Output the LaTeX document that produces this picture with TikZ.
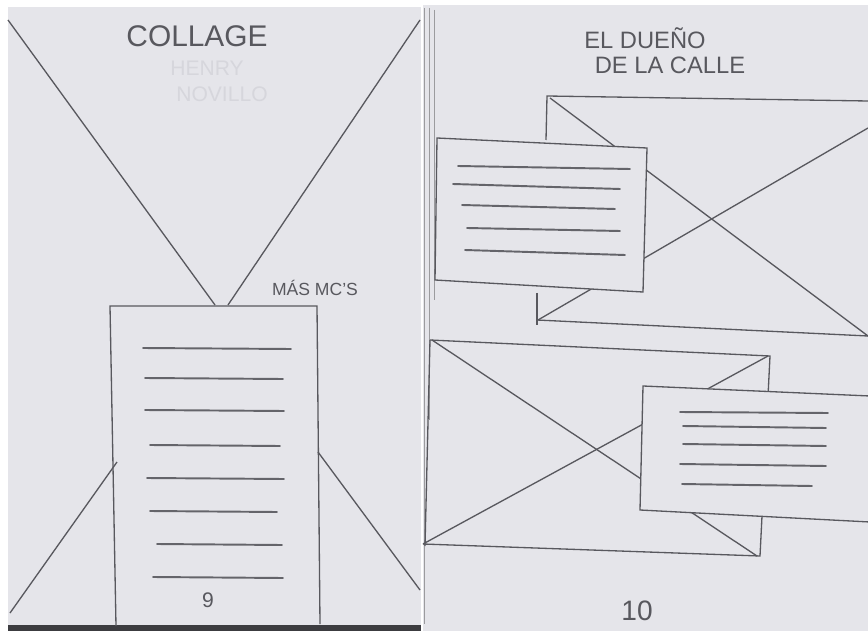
\documentclass[tikz,border=0pt]{standalone}
\usepackage{fontspec}
\setmainfont{Liberation Sans}
\usepackage{tikz}
\usetikzlibrary{calc}
\usepackage{xcolor}
\definecolor{skPaper}{RGB}{229,229,234}
\definecolor{skPencil}{RGB}{88,88,94}
\definecolor{skLine}{RGB}{100,100,106}
\definecolor{skGhost}{RGB}{214,214,220}
\definecolor{skEdge}{RGB}{60,60,64}
\tikzset{
    sheet/.style={fill=skPaper,draw=none},
    pencil/.style={draw=skPencil,line width=0.75pt},
    faint/.style={draw=skPencil!60,line width=0.4pt},
    textrule/.style={draw=skLine,line width=1.1pt,line cap=round},
    card/.style={pencil,fill=skPaper},
    hand/.style={text=skPencil,inner sep=0pt,font=\fontsize{#1}{#1}\selectfont},
    hand/.default=15
}

\begin{document}
\begin{tikzpicture}[x=0.02cm,y=-0.02cm]
\useasboundingbox (0,0) rectangle (868,631);
\clip (0,0) rectangle (868,631);

% sheets
\fill[white] (0,0) rectangle (868,631);
\fill[sheet] (8,7) rectangle (421,626);
\fill[sheet] (423,5) rectangle (868,631);
\fill[skEdge] (8,625) rectangle (421,631);
\draw[faint] (424,8) -- (424,624);
\draw[faint] (429,8) -- (429,420);
\draw[faint] (434,10) -- (434,300);

%%% page 9
\node[hand=12,text=skGhost] (henry) at (207,68) {HENRY};
\node[hand=12,text=skGhost] (novillo) at (222,94) {NOVILLO};
\node[hand=17] (collage) at (197,36) {COLLAGE};

\draw[pencil] (8,20) -- (215,305);
\draw[pencil] (420,20) -- (228,305);
\draw[pencil] (10,613) -- (117,462);
\draw[pencil] (318,452) -- (420,590);

\draw[pencil] (116,626) -- (110,306) -- (317,306) -- (320,624);
\node[hand=10,anchor=south] (mas) at (315,296) {MÁS MC'S};

\foreach \ya/\xa/\xb in {348/143/291,378/145/283,410/145/284,445/150/280,
                         478/147/284,511/150/277,544/157/282,577/153/283}
  \draw[textrule] (\xa,\ya) -- (\xb,\ya+1);

\node[hand=12] (nine) at (208,600) {9};

%%% page 10
\node[hand=13.5] (title1) at (645,38) {EL DUEÑO};
\node[hand=13.5] (title2) at (670,65) {DE LA CALLE};

% upper image box
\draw[pencil] (546,140) -- (547,96) -- (868,101);
\draw[pencil] (537,293) -- (537,325);
\draw[pencil] (537,320) -- (868,336);
\draw[pencil] (550,98) -- (868,336);
\draw[pencil] (868,128) -- (538,320);

% upper text card
\draw[card] (437,138) -- (647,148) -- (643,292) -- (435,280) -- cycle;
\foreach \ya/\yb/\xa/\xb in {166/169/458/630,184/189/453/620,205/209/462/615,
                             228/231/467/620,250/255/465/625}
  \draw[textrule] (\xa,\ya) -- (\xb,\yb);

% lower image box
\draw[pencil] (430,340) -- (770,356) -- (760,556) -- (423,544);
\draw[pencil] (430,340) -- (425,546);
\draw[pencil] (432,340) -- (757,556);
\draw[pencil] (423,544) -- (768,356);

% lower text card
\draw[card] (643,386) -- (870,396) -- (870,522) -- (640,510) -- cycle;
\foreach \ya/\yb/\xa/\xb in {412/413/680/828,426/428/683/826,444/446/683/826,
                             464/466/680/826,484/486/682/812}
  \draw[textrule] (\xa,\ya) -- (\xb,\yb);

\node[hand=16] (ten) at (637,611) {10};

\end{tikzpicture}
\end{document}
